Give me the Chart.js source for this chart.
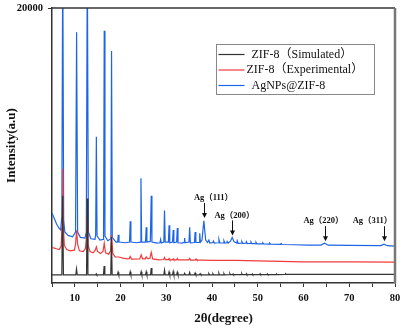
<!DOCTYPE html>
<html lang="en">
<head>
  <meta charset="UTF-8">
  <title>XRD patterns</title>
  <style>
    body { margin: 0; padding: 0; background: #fff; }
    #wrap { width: 401px; height: 328px; position: relative; }
    canvas { display: block; }
  </style>
  <script src="https://cdn.jsdelivr.net/npm/chart.js"></script>
</head>
<body>
  <div id="wrap"><canvas id="xrdChart" width="401" height="328"></canvas></div>
  <script>
    // series labels
    const seriesNames = ['ZIF-8（Simulated）', 'ZIF-8（Experimental）', 'AgNPs@ZIF-8'];

    // [2theta, intensity]
    const simulated = [
      [5, 100], [7.15, 100], [7.33, 6000], [7.5, 100], [10.2, 100], [10.36, 550], [10.52, 100],
      [12.55, 100], [12.7, 5800], [12.85, 100], [14.55, 100], [14.68, 180], [14.8, 100],
      [16.25, 100], [16.4, 770], [16.55, 100], [17.85, 100], [18.0, 2930], [18.15, 100],
      [19.3, 100], [19.45, 300], [19.6, 100], [21.95, 100], [22.1, 330], [22.25, 100],
      [24.35, 100], [24.5, 330], [24.65, 100], [25.45, 100], [25.6, 330], [25.75, 100],
      [26.55, 100], [26.7, 620], [26.85, 100], [29.45, 100], [29.6, 450], [29.75, 100],
      [30.45, 100], [30.6, 320], [30.75, 100], [31.35, 100], [31.5, 350], [31.65, 100],
      [32.25, 100], [32.4, 300], [32.55, 100], [33.85, 100], [34.0, 220], [34.15, 100],
      [34.95, 100], [35.1, 280], [35.25, 100], [36.15, 110], [36.3, 250], [36.45, 110],
      [37.25, 110], [37.4, 200], [37.55, 110], [39.15, 110], [39.3, 200], [39.45, 110],
      [40.1, 110], [40.2, 180], [40.3, 110], [41.4, 110], [41.5, 220], [41.6, 110],
      [42.5, 110], [42.6, 190], [42.7, 110], [43.8, 120], [43.9, 200], [44.0, 120],
      [44.5, 120], [44.6, 180], [44.7, 120], [46.4, 120], [46.5, 200], [46.6, 120],
      [47.4, 120], [47.5, 190], [47.6, 120], [48.7, 120], [48.8, 180], [48.9, 120],
      [50.4, 130], [50.5, 190], [50.6, 130], [52, 130], [52.1, 180], [52.2, 130],
      [54, 130], [54.1, 170], [54.2, 130], [56, 140], [56.1, 180], [56.2, 140],
      [60, 150], [65, 150], [70, 150], [75, 150], [80, 150]
    ];

    const experimental = [
      [5, 2150], [5.5, 2100], [6, 2050], [6.6, 2000], [7.0, 2250], [7.2, 3600], [7.35, 8000],
      [7.5, 3600], [7.7, 2300], [8.2, 2000], [9, 1900], [9.9, 1950], [10.15, 2400],
      [10.38, 3430], [10.6, 2400], [11.0, 1900], [11.8, 1850], [12.3, 2050], [12.55, 3000],
      [12.72, 4500], [12.9, 2300], [13.3, 1850], [14.0, 1750], [14.45, 1950], [14.7, 2190],
      [14.95, 1850], [15.6, 1700], [16.15, 1850], [16.42, 2460], [16.7, 1750], [17.4, 1650],
      [17.8, 1900], [18.02, 3060], [18.3, 1700], [18.8, 1450], [19.6, 1440], [20.5, 1350],
      [21.5, 1300], [21.9, 1320], [22.1, 1480], [22.4, 1280], [24.2, 1300], [24.5, 1600],
      [24.8, 1300], [25.4, 1300], [25.6, 1450], [25.9, 1320], [26.4, 1330], [26.7, 1780],
      [27.0, 1300], [28.5, 1230], [29.4, 1250], [29.6, 1400], [29.8, 1240], [30.45, 1240],
      [30.6, 1330], [30.75, 1230], [31.35, 1230], [31.5, 1300], [31.65, 1220], [32.25, 1220],
      [32.4, 1330], [32.6, 1220], [34.9, 1220], [35.1, 1330], [35.3, 1210], [36.3, 1210],
      [36.5, 1290], [36.7, 1200], [38, 1200], [40, 1190], [45, 1190], [50, 1150],
      [55, 1110], [60, 1080], [70, 1070], [80, 1060]
    ];

    const agZif = [
      [5, 4700], [5.5, 4300], [6, 3900], [6.5, 3600], [6.9, 3450], [7.15, 4500], [7.35, 24000],
      [7.55, 4200], [7.8, 3300], [8.5, 3050], [9.5, 2950], [10.15, 3300], [10.38, 18200],
      [10.6, 3300], [11.2, 2900], [12.2, 2850], [12.5, 3300], [12.72, 24000], [12.95, 3300],
      [13.5, 2800], [14.4, 2750], [14.55, 3100], [14.7, 10400], [14.85, 3000], [15.5, 2700],
      [16.2, 2750], [16.28, 3200], [16.42, 18300], [16.58, 3000], [17.2, 2650], [17.85, 2800],
      [17.88, 3200], [18.02, 16800], [18.18, 2900], [19.0, 2550], [19.35, 2550], [19.5, 3100],
      [19.65, 2550], [21.0, 2500], [21.95, 2550], [22.1, 4100], [22.25, 2550], [23.5, 2500],
      [24.3, 2550], [24.45, 7300], [24.6, 2550], [25.45, 2550], [25.6, 3650], [25.75, 2550],
      [26.5, 2600], [26.7, 6000], [26.85, 2550], [28.0, 2480], [28.6, 2500], [28.75, 2750],
      [28.9, 2480], [29.45, 2550], [29.6, 4900], [29.75, 2550], [30.45, 2550], [30.6, 3800],
      [30.75, 2500], [31.35, 2550], [31.5, 3450], [31.65, 2500], [32.25, 2550], [32.4, 3600],
      [32.55, 2500], [33.5, 2480], [33.9, 2550], [34.0, 2850], [34.1, 2500], [34.95, 2550],
      [35.1, 3650], [35.25, 2500], [36.15, 2520], [36.3, 3300], [36.45, 2520], [37.15, 2520],
      [37.3, 3200], [37.45, 2550], [37.8, 2700], [38.2, 4130], [38.6, 2700], [39.0, 2520],
      [39.3, 2700], [39.5, 2480], [40.2, 2520], [40.3, 2620], [40.5, 2480], [41.4, 2500],
      [41.5, 2750], [41.7, 2480], [42.5, 2480], [42.6, 2650], [42.8, 2470], [43.2, 2500],
      [43.3, 2600], [43.5, 2480], [44.0, 2600], [44.4, 2900], [44.8, 2580], [45.4, 2480],
      [45.5, 2650], [45.7, 2460], [46.4, 2470], [46.5, 2600], [46.7, 2450], [47.4, 2460],
      [47.5, 2580], [47.7, 2440], [48.4, 2450], [48.5, 2560], [48.7, 2430], [49.5, 2430],
      [49.6, 2540], [49.8, 2420], [51.0, 2420], [51.1, 2490], [51.3, 2410], [52.5, 2400],
      [52.6, 2470], [52.8, 2390], [55, 2380], [55.1, 2440], [55.3, 2370], [58, 2350],
      [61, 2330], [63.8, 2330], [64.6, 2470], [65.4, 2320], [70, 2310], [76.9, 2290],
      [77.6, 2390], [78.3, 2280], [80, 2250]
    ];

    // silver reflections marked on the blue pattern
    const agLabels = ['Ag（111）', 'Ag（200）', 'Ag（220）', 'Ag（311）'];
    const agTheta = [38.2, 44.4, 64.6, 77.6];
    const agPeak = [4130, 2900, 2470, 2390];

    const xTicks = [10, 20, 30, 40, 50, 60, 70, 80];
    const yTicks = [0, 10000, 20000];

    const colors = ['#333333', '#f03c3c', '#1e64e6'];
    const serif = '"Liberation Serif", "Times New Roman", "Noto Sans CJK SC", serif';

    // frame, legend box and Ag arrows
    const decorPlugin = {
      id: 'decor',
      afterDatasetsDraw(chart) {
        const ctx = chart.ctx;
        const a = chart.chartArea;
        const xs = chart.scales.x, ys = chart.scales.y;
        ctx.save();

        // top + right frame
        ctx.strokeStyle = '#333';
        ctx.lineWidth = 1.5;
        ctx.beginPath();
        ctx.moveTo(a.left, a.top);
        ctx.lineTo(a.right, a.top);
        ctx.stroke();
        ctx.strokeStyle = '#777';
        ctx.lineWidth = 2.5;
        ctx.beginPath();
        ctx.moveTo(a.right, a.top);
        ctx.lineTo(a.right, a.bottom);
        ctx.stroke();

        // Ag labels with arrows
        const shift = [-1, 0, 0, -1];
        const textDx = [9, 2, -2, -12];
        ctx.fillStyle = '#111';
        ctx.strokeStyle = '#111';
        ctx.lineWidth = 1;
        ctx.font = 'bold 8.5px ' + serif;
        ctx.textAlign = 'center';
        ctx.textBaseline = 'middle';
        agTheta.forEach((t, i) => {
          const px = Math.round(xs.getPixelForValue(t)) + 0.5;
          const tip = ys.getPixelForValue(agPeak[i]) - 2 + shift[i];
          const top = tip - 15;
          ctx.beginPath();
          ctx.moveTo(px, top);
          ctx.lineTo(px, tip - 4);
          ctx.stroke();
          ctx.beginPath();
          ctx.moveTo(px - 2.5, tip - 5);
          ctx.lineTo(px + 2.5, tip - 5);
          ctx.lineTo(px, tip);
          ctx.closePath();
          ctx.fill();
          ctx.fillText(agLabels[i], px + textDx[i], top - 5);
        });

        // legend
        const bx = a.right - 178.5, by = a.top + 36.5;
        ctx.strokeStyle = '#888';
        ctx.lineWidth = 1;
        ctx.strokeRect(bx, by, 158, 50);
        ctx.font = '12px ' + serif;
        ctx.textAlign = 'left';
        ctx.fillStyle = '#111';
        const textX = [35, 30, 35];
        seriesNames.forEach((name, i) => {
          const ly = by + 10 + i * 15.5;
          ctx.strokeStyle = colors[i];
          ctx.lineWidth = 1.2;
          ctx.beginPath();
          ctx.moveTo(bx + 2, ly);
          ctx.lineTo(bx + 28, ly);
          ctx.stroke();
          ctx.fillText(name, bx + textX[i], ly);
        });
        ctx.restore();
      }
    };

    const datasets = [simulated, experimental, agZif].map((d, i) => ({
      label: seriesNames[i],
      data: d,
      borderColor: colors[i],
      backgroundColor: colors[i],
      borderWidth: 1.2,
      pointRadius: 0,
      tension: 0,
      fill: false
    }));

    new Chart(document.getElementById('xrdChart').getContext('2d'), {
      type: 'line',
      data: { datasets: datasets },
      plugins: [decorPlugin],
      options: {
        responsive: false,
        animation: false,
        layout: { padding: { top: 8, right: 6, left: 0, bottom: 0 } },
        plugins: { legend: { display: false }, tooltip: { enabled: false } },
        scales: {
          x: {
            type: 'linear',
            min: 5,
            max: 80,
            // fixed axis band, no extra room for the end labels
            afterFit: (s) => { s.height = 45; s.paddingLeft = 0; s.paddingRight = 0; },
            border: { display: true, color: '#333', width: 1.5 },
            grid: { drawOnChartArea: false, drawTicks: true, tickLength: 4, color: '#333', lineWidth: 1 },
            ticks: {
              stepSize: 5,
              autoSkip: false,
              maxRotation: 0,
              padding: 5,
              color: '#111',
              font: { family: serif, size: 10.5, weight: 'bold' },
              callback: (v) => xTicks.includes(v) ? String(v) : ''
            },
            title: {
              display: true,
              text: '2θ(degree)',
              color: '#111',
              padding: { top: 0, bottom: 2 },
              font: { family: serif, size: 13, weight: 'bold' }
            }
          },
          y: {
            min: -500,
            max: 20000,
            afterFit: (s) => { s.width = 52; s.paddingTop = 0; s.paddingBottom = 0; },
            afterBuildTicks: (s) => { s.ticks = s.ticks.filter(t => t.value >= 0 && t.value % 5000 === 0); },
            border: { display: true, color: '#333', width: 1.5 },
            grid: { drawOnChartArea: false, drawTicks: true, tickLength: 4, color: '#333', lineWidth: 1 },
            ticks: {
              stepSize: 5000,
              padding: 5,
              color: '#111',
              font: { family: serif, size: 10.5, weight: 'bold' },
              callback: (v) => yTicks.includes(v) ? String(v) : ''
            },
            title: {
              display: true,
              text: 'Intensity(a.u)',
              color: '#111',
              padding: { top: 4, bottom: 0 },
              font: { family: serif, size: 13, weight: 'bold' }
            }
          }
        }
      }
    });
  </script>
</body>
</html>
